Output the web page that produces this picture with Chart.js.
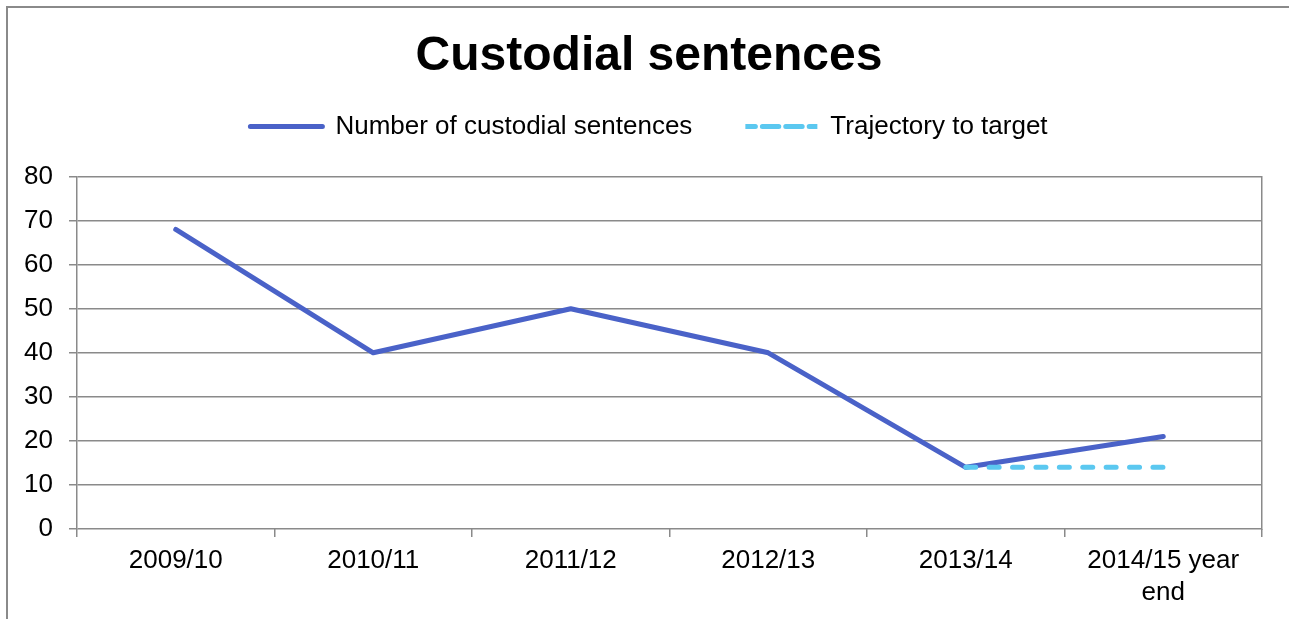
<!DOCTYPE html>
<html>
<head>
<meta charset="utf-8">
<title>Custodial sentences</title>
<script src="https://cdn.jsdelivr.net/npm/chart.js@4/dist/chart.umd.min.js"></script>
<style>
	html, body { margin: 0; padding: 0; background: #fff; overflow: hidden; }
	#frame {
		position: absolute; left: 6px; top: 6px; width: 1400px; height: 700px;
		border: 2px solid #8a8a8a;
	}
	#wrap { position: absolute; left: 0; top: 0; width: 1289px; height: 619px; }
</style>
</head>
<body>
<div id="frame"></div>
<div id="wrap"><canvas id="sentences"></canvas></div>
<script>
const years = ["2009/10", "2010/11", "2011/12", "2012/13", "2013/14", ["2014/15 year", "end"]];
const custodial = [68, 40, 50, 40, 14, 21];
const trajectory = [null, null, null, null, 14, 14];
const yTicks = [0, 80, 10];

const gridGrey = "#8a8a8a";
const font = "'Liberation Sans', Arial, sans-serif";

// legend sits between title and plot; stretch its box so the plot starts lower
const legendHeight = {
	id: "legendHeight",
	afterInit(chart) {
		const fit = chart.legend.fit;
		chart.legend.fit = function () {
			fit.bind(chart.legend)();
			this.height += 27;
		};
	},
};

new Chart(document.getElementById("sentences"), {
	type: "line",
	data: {
		labels: years,
		datasets: [
			{
				label: "Number of custodial sentences",
				data: custodial,
				borderColor: "#4a62c8",
				backgroundColor: "#4a62c8",
				borderWidth: 5,
				borderCapStyle: "round",
				borderJoinStyle: "round",
				pointRadius: 0,
				tension: 0,
				order: 1,
			},
			{
				label: "Trajectory to target",
				data: trajectory,
				borderColor: "#5bc8f0",
				backgroundColor: "#5bc8f0",
				borderWidth: 5,
				borderDash: [10, 13.4],
				borderCapStyle: "round",
				pointRadius: 0,
				tension: 0,
				order: 0,
			},
		],
	},
	options: {
		responsive: true,
		maintainAspectRatio: false,
		animation: false,
		layout: { padding: { top: 0, left: 0, right: -9, bottom: 0 } },
		plugins: {
			tooltip: { enabled: false },
			title: {
				display: true,
				text: "Custodial sentences",
				color: "#000",
				font: { family: font, size: 48, weight: "bold", lineHeight: 1.2 },
				padding: { top: 28, bottom: -25 },
			},
			legend: {
				labels: {
					color: "#000",
					font: { family: font, size: 26 },
					boxWidth: 72,
					boxHeight: 0,
					padding: 53,
					sort: (a, b) => a.datasetIndex - b.datasetIndex,
				},
			},
		},
		scales: {
			x: {
				offset: true,
				grid: {
					offset: true,
					drawOnChartArea: false,
					drawTicks: true,
					tickLength: 8,
					tickColor: gridGrey,
					lineWidth: 1.5,
				},
				border: { display: false },
				ticks: {
					color: "#000",
					padding: 8,
					maxRotation: 0,
					autoSkip: false,
					font: { family: font, size: 26, lineHeight: 1.23 },
				},
				afterFit(scale) {
					scale.height = 90;
				},
			},
			y: {
				min: yTicks[0],
				max: yTicks[1],
				ticks: {
					stepSize: yTicks[2],
					color: "#000",
					padding: 16,
					font: { family: font, size: 26 },
				},
				grid: {
					color: gridGrey,
					lineWidth: 1.5,
					tickLength: 8,
				},
				border: { display: true, color: gridGrey, width: 1.5 },
				afterFit(scale) {
					scale.width = 77;
				},
			},
			yRight: {
				position: "right",
				display: true,
				grid: { display: false },
				ticks: { display: false },
				border: { display: true, color: gridGrey, width: 1.5 },
				afterFit(scale) {
					scale.width = 36;
				},
			},
		},
	},
	plugins: [legendHeight],
});
</script>
</body>
</html>
